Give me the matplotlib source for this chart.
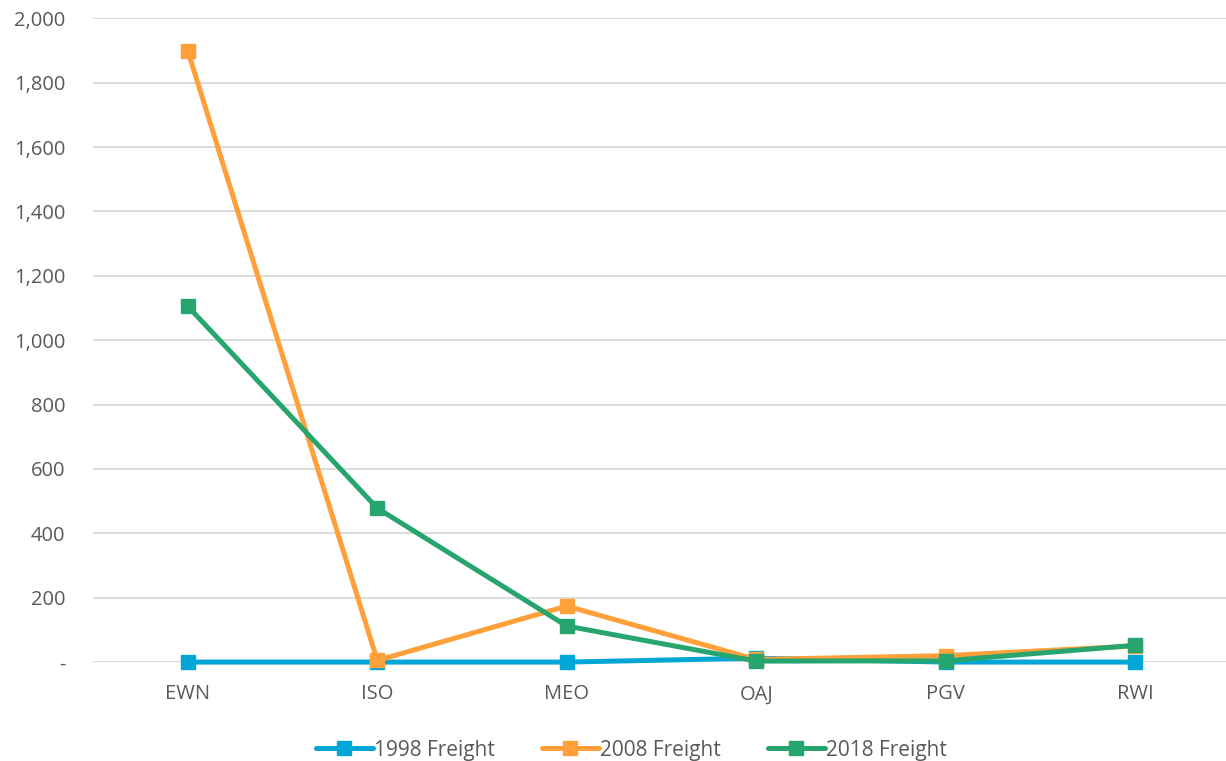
import numpy as np
import matplotlib.pyplot as plt
from matplotlib.ticker import FuncFormatter

airports = ["EWN", "ISO", "MEO", "OAJ", "PGV", "RWI"]
freight_1998 = [0, 0, 0, 12, 0, 0]
freight_2008 = [1898, 5, 174, 8, 20, 50]
freight_2018 = [1105, 478, 112, 3, 4, 52]

series = [
    ("1998 Freight", freight_1998, "#02a6d6"),
    ("2008 Freight", freight_2008, "#ffa03a"),
    ("2018 Freight", freight_2018, "#27a56f"),
]

plt.rcParams['font.family'] = ['Open Sans', 'DejaVu Sans']

fig = plt.figure(figsize=(12.26, 7.61), dpi=100)
ax = fig.add_axes([0.076, 0.130, 0.927, 0.846])

x = np.arange(len(airports))
for name, vals, col in series:
    ax.plot(x, vals, color=col, lw=3.6, marker='s', ms=10, label=name,
            solid_capstyle='round', solid_joinstyle='round', clip_on=False)

ax.set_xlim(-0.5, len(airports) - 0.5)
ax.set_ylim(0, 2000)
ax.set_yticks(np.arange(0, 2001, 200))
ax.yaxis.set_major_formatter(FuncFormatter(lambda v, p: "-" if v == 0 else f"{int(v):,}"))
ax.set_xticks(x)
ax.set_xticklabels(airports)
ax.grid(axis='y', color='#d9d9d9', lw=1.3)
ax.set_axisbelow(True)
for s in ax.spines.values():
    s.set_visible(False)
ax.tick_params(length=0, labelsize=14.5, colors='#595959', pad=16)
ax.tick_params(axis='y', pad=20)

leg = fig.legend(loc='lower center', bbox_to_anchor=(0.515, -0.024), ncol=3, frameon=False,
                 fontsize=15, handlelength=2.7, handletextpad=0.05, columnspacing=2.3)
for t in leg.get_texts():
    t.set_color('#595959')

fig.savefig("out.png", dpi=100)
